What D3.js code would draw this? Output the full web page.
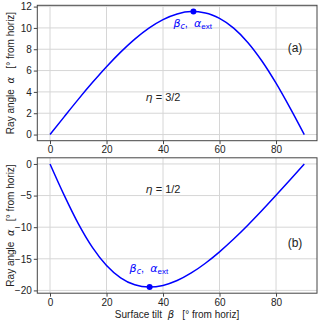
<!DOCTYPE html>
<html>
<head>
<meta charset="UTF-8">
<script src="https://d3js.org/d3.v7.min.js"></script>
<style>
  body { margin: 0; background: #fff; }
  svg { display: block; font-family: "Liberation Sans", Arial, sans-serif; }
  text { white-space: pre; }
  .tick text { font-size: 10px; fill: #222; }
  .tick line { stroke: #444; }
  .grid line { stroke: #d6d6d6; stroke-width: 1; }
  .lab { font-size: 10px; fill: #222; }
  .gr { font-family: "DejaVu Sans", sans-serif; font-style: italic; }
</style>
</head>
<body>
<svg id="chart" width="320" height="323"></svg>
<script>
// surface tilt beta (deg)
var tilt = [0, 5, 10, 15, 20, 25, 30, 35, 40, 45, 50, 55, 60, 65, 70, 75, 80, 85, 90];
// ray angle alpha, eta = 3/2
var alphaA = [0, 1.66, 3.30, 4.87, 6.36, 7.73, 8.95, 9.98, 10.78, 11.31, 11.53, 11.40, 10.89, 9.98, 8.64, 6.90, 4.82, 2.48, 0];
// ray angle alpha, eta = 1/2
var alphaB = [0, -4.93, -9.43, -13.19, -16.05, -18.00, -19.11, -19.47, -19.21, -18.44, -17.24, -15.70, -13.90, -11.88, -9.69, -7.37, -4.96, -2.50, 0];
// extremum points [beta_c, alpha_ext]
var extA = [50.77, 11.54];
var extB = [35.26, -19.47];
var xTicks = [0, 20, 40, 60, 80];
var yTicksA = [0, 2, 4, 6, 8, 10, 12];
var yTicksB = [0, -5, -10, -15, -20];

var svg = d3.select("#chart");
var x = d3.scaleLinear().domain([-4.5, 94.5]).range([37.3, 317]);

function panel(vals, ext, yDomain, yRange, yTicks, etaTxt, tag, tagY, extLab, etaPos) {
  var y = d3.scaleLinear().domain(yDomain).range(yRange);
  var g = svg.append("g");
  var top = yRange[1], bot = yRange[0];

  // grid
  var grid = g.append("g").attr("class", "grid");
  grid.selectAll(".gx").data(xTicks).enter().append("line")
    .attr("x1", d => x(d)).attr("x2", d => x(d)).attr("y1", top).attr("y2", bot);
  grid.selectAll(".gy").data(yTicks).enter().append("line")
    .attr("x1", x.range()[0]).attr("x2", x.range()[1]).attr("y1", d => y(d)).attr("y2", d => y(d));

  // axes
  g.append("g").attr("transform", "translate(0," + bot + ")")
    .call(d3.axisBottom(x).tickValues(xTicks).tickSize(3.5).tickPadding(2).tickFormat(d3.format("d")))
    .call(a => a.select(".domain").remove());
  g.append("g").attr("transform", "translate(" + x.range()[0] + ",0)")
    .call(d3.axisLeft(y).tickValues(yTicks).tickSize(3.5).tickPadding(2).tickFormat(d3.format("d")))
    .call(a => a.select(".domain").remove());

  // frame
  g.append("rect").attr("x", x.range()[0]).attr("y", top)
    .attr("width", x.range()[1] - x.range()[0]).attr("height", bot - top)
    .attr("fill", "none").attr("stroke", "#444").attr("stroke-width", 1);

  // curve
  var line = d3.line().x((d, i) => x(tilt[i])).y(d => y(d)).curve(d3.curveMonotoneX);
  g.append("path").datum(vals).attr("d", line)
    .attr("fill", "none").attr("stroke", "#0000ff").attr("stroke-width", 1.5);
  g.append("circle").attr("cx", x(ext[0])).attr("cy", y(ext[1])).attr("r", 3).attr("fill", "#0000ff");

  // extremum label
  var t = g.append("text").attr("x", x(extLab[0])).attr("y", y(extLab[1]))
    .attr("text-anchor", "middle").attr("fill", "#0000ff").style("font-size", "11px");
  t.append("tspan").attr("class", "gr").text("β");
  t.append("tspan").attr("class", "gr").attr("dy", 2).style("font-size", "8px").text("c");
  t.append("tspan").attr("dy", -2).text(",  ");
  t.append("tspan").attr("class", "gr").text("α");
  t.append("tspan").attr("dy", 2).style("font-size", "8px").text("ext");

  // eta label
  var e = g.append("text").attr("class", "lab").attr("x", x(etaPos[0])).attr("y", y(etaPos[1]))
    .attr("text-anchor", "middle").style("font-size", "11px");
  e.append("tspan").attr("class", "gr").text("η");
  e.append("tspan").text(" = " + etaTxt);

  g.append("text").attr("class", "lab").attr("x", 295).attr("y", tagY)
    .attr("text-anchor", "middle").style("font-size", "12px").text(tag);

  // y label
  var yl = g.append("text").attr("class", "lab")
    .attr("transform", "translate(14," + ((top + bot) / 2) + ") rotate(-90)")
    .attr("text-anchor", "middle");
  yl.append("tspan").text("Ray angle  ");
  yl.append("tspan").attr("class", "gr").text("α");
  yl.append("tspan").text("   [° from horiz]");
  return y;
}

panel(alphaA, extA, [-0.577, 12.12], [140.7, 5.3], yTicksA, "3/2", "(a)", 52, [50.5, 10.1], [40, 3.1]);
panel(alphaB, extB, [-20.44, 0.973], [293.2, 157.8], yTicksB, "1/2", "(b)", 247, [35, -17.1], [40, -4.6]);

// x label
var xl = svg.append("text").attr("class", "lab").attr("x", 177).attr("y", 318).attr("text-anchor", "middle");
xl.append("tspan").text("Surface tilt  ");
xl.append("tspan").attr("class", "gr").text("β");
xl.append("tspan").text("   [° from horiz]");
</script>
</body>
</html>
